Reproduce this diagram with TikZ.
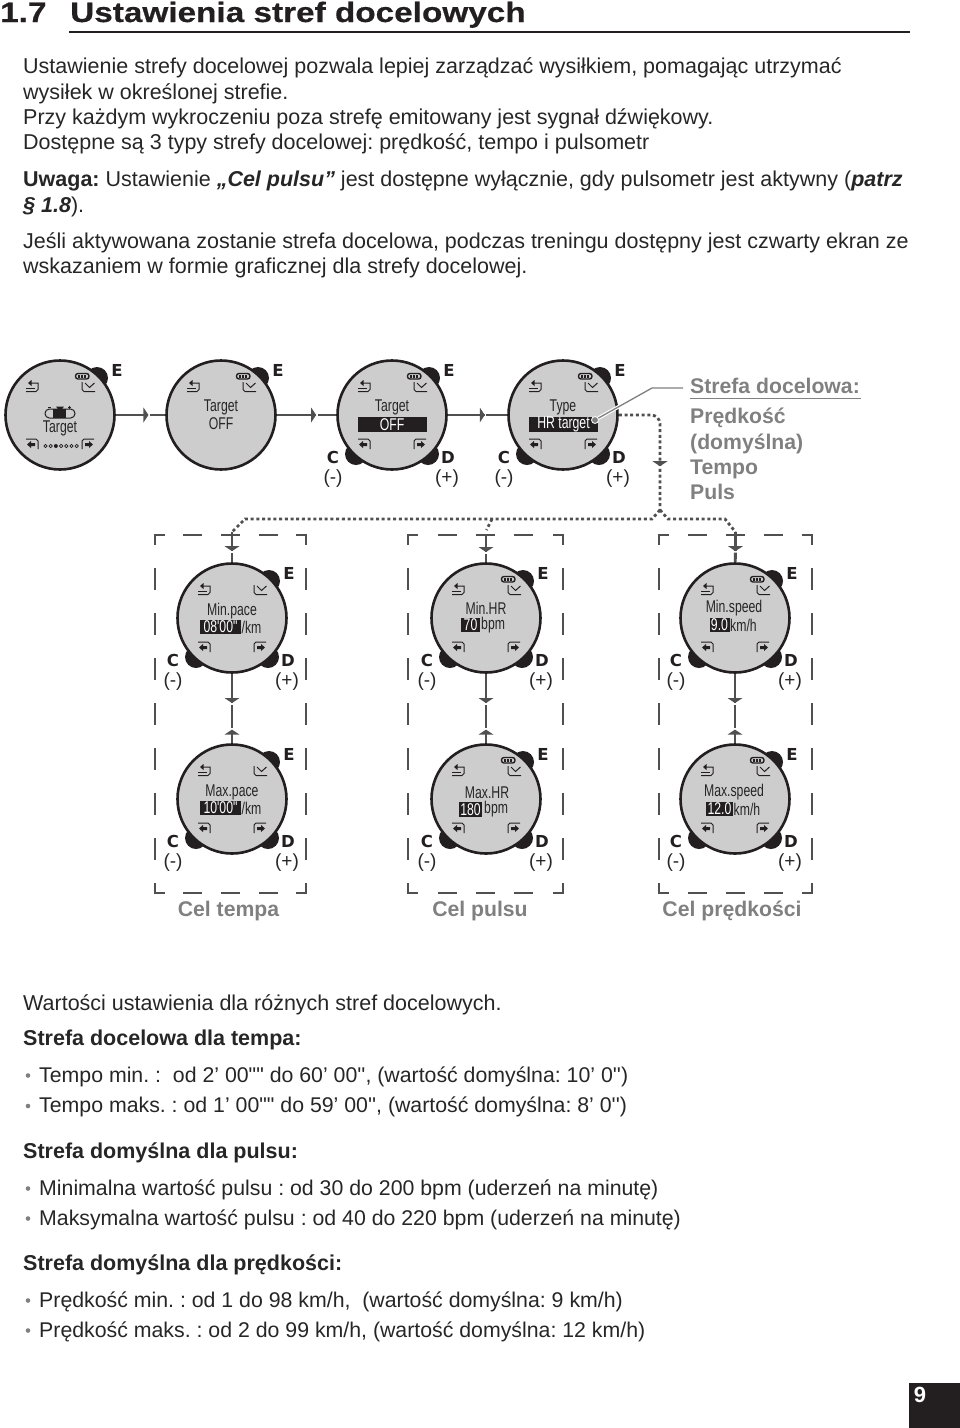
\documentclass[tikz,border=0pt]{standalone}
\usepackage{fontspec}
\usepackage{xcolor}
\usetikzlibrary{positioning,arrows.meta,calc,decorations.markings}
\newfontfamily\bodyfont{Liberation Sans}
\newfontfamily\headfont[FakeStretch=1.19,FakeBold=.5]{Liberation Sans}
\newfontfamily\keyfont{DejaVu Sans}
\newfontfamily\lcdfont[FakeStretch=.72]{Liberation Sans}
\definecolor{myink}{RGB}{35,31,32}
\definecolor{mytext}{RGB}{38,38,38}
\definecolor{mygray}{RGB}{128,128,128}
\definecolor{myline}{RGB}{80,80,80}
\definecolor{mydial}{RGB}{205,205,205}
\tikzset{
    bodytext/.style={
        anchor=base west,
        inner sep=0pt,
        text=mytext,
        font=\bodyfont\fontsize{21.5}{25}\selectfont
    },
    boldtext/.style={
        bodytext,
        font=\bodyfont\bfseries\fontsize{21.5}{25}\selectfont
    },
    listtext/.style={
        bodytext,
        font=\bodyfont\fontsize{21.3}{25}\selectfont
    },
    headtext/.style={
        anchor=base west,
        inner sep=0pt,
        text=myink,
        font=\headfont\bfseries\fontsize{28}{32}\selectfont
    },
    graylabel/.style={
        anchor=base west,
        inner sep=0pt,
        text=mygray,
        font=\bodyfont\bfseries\fontsize{21.2}{25}\selectfont
    },
    zonelabel/.style={graylabel,anchor=base},
    keylabel/.style={
        inner sep=0pt,
        text=myink,
        font=\keyfont\bfseries\fontsize{16.5}{18}\selectfont
    },
    signlabel/.style={
        inner sep=0pt,
        text=mytext,
        font=\bodyfont\fontsize{19}{22}\selectfont
    },
    lcdtext/.style={
        inner sep=0pt,
        text=mytext,
        font=\lcdfont\fontsize{17}{18}\selectfont
    },
    lcdinv/.style={
        fill=myink,
        text=white,
        inner sep=0pt,
        minimum height=14.5pt,
        font=\lcdfont\fontsize{17}{18}\selectfont
    },
    watchdial/.style={
        circle,
        draw=myink,
        fill=mydial,
        line width=2.6pt,
        minimum size=109pt,
        inner sep=0pt
    },
    icon/.style={draw=myink,line width=1pt},
    arr/.style={draw=myline,line width=2.8pt},
    dots/.style={draw=myline,line width=2.8pt,dash pattern=on 3pt off 2.7pt},
    boxline/.style={draw=myline,line width=1.3pt},
    callout/.style={draw=mygray,line width=1.3pt,preaction={draw=white,line width=3.6pt}},
    bulletdot/.style={circle,fill=mygray,inner sep=0pt,minimum size=4.6pt},
    tipat/.style={
        postaction={decorate,decoration={markings,mark=at position #1 with {
            \fill[white,sharp corners] (2.5,-2.5) rectangle (4,2.5);
            \fill[myline,sharp corners] (-2.5,-7.5) -- (2.5,0) -- (-2.5,7.5) -- cycle;}}}
    },
    tipback/.style={
        postaction={decorate,decoration={markings,mark=at position #1 with {
            \fill[white,sharp corners] (-4,-2.5) rectangle (-2.5,2.5);
            \fill[myline,sharp corners] (2.5,-7.5) -- (-2.5,0) -- (2.5,7.5) -- cycle;}}}
    },
    keyE/.pic={
        \fill[myink] (37,-37) circle (11);
        \node[keylabel] (e) at (57,-45) {E};
    },
    keysCD/.pic={
        \fill[myink] (-36,39) circle (11);
        \fill[myink] (36,39) circle (11);
        \node[keylabel] (c) at (-59,42) {C};
        \node[keylabel] (d) at (56,42) {D};
        \node[signlabel] (minus) at (-59,64) {(-)};
        \node[signlabel] (plus) at (55,64) {(+)};
    },
    dial/.pic={
        \node[watchdial] (dial) at (0,0) {};
        % back and confirm icons
        \draw[icon] (-34,-23.5) -- (-24,-23.5) -- (-22,-25.5) -- (-22,-32) -- (-29,-32);
        \fill[myink] (-32,-32) -- (-28.5,-35) -- (-28.5,-29) -- cycle;
        \draw[icon] (-34,-26.5) -- (-25,-26.5);
        \draw[icon] (22,-33) -- (22,-25.5) -- (24,-23.5) -- (35,-23.5);
        \draw[icon] (25,-32) -- (29.5,-27.5) -- (34.5,-32);
    },
    navicons/.pic={
        \draw[icon] (-34,24) -- (-24,24) -- (-22,26) -- (-22,34);
        \fill[myink] (-33,29.5) -- (-29,26) -- (-29,28) -- (-25,28) -- (-25,31) -- (-29,31) -- (-29,33) -- cycle;
        \draw[icon] (34,24) -- (24,24) -- (22,26) -- (22,34);
        \fill[myink] (33,29.5) -- (29,26) -- (29,28) -- (25,28) -- (25,31) -- (29,31) -- (29,33) -- cycle;
    },
    battery/.pic={
        \draw[draw=myink,line width=1.4pt,fill=mydial,rounded corners=2.5pt] (15.5,-41.5) rectangle (29,-36);
        \fill[myink] (18,-40) rectangle (20,-37.5);
        \fill[myink] (21,-40) rectangle (23,-37.5);
        \fill[myink] (24,-40) rectangle (26,-37.5);
    }
}

\begin{document}
\frenchspacing
\begin{tikzpicture}[x=1pt,y=-1pt]
\useasboundingbox (0,0) rectangle (960,1428);

% heading
\node[headtext] (secnum) at (0,22) {1.7};
\node[headtext] (sectitle) at (70,22) {Ustawienia stref docelowych};
\coordinate (ruleL) at (69,32);
\coordinate (ruleR) at (910,32);
\draw[draw=myink,line width=1.6pt] (ruleL) -- (ruleR);

% intro text
\node[bodytext] (intro1) at (23,73) {Ustawienie strefy docelowej pozwala lepiej zarządzać wysiłkiem, pomagając utrzymać};
\node[bodytext] (intro2) at (23,99) {wysiłek w określonej strefie.};
\node[bodytext] (intro3) at (23,124) {Przy każdym wykroczeniu poza strefę emitowany jest sygnał dźwiękowy.};
\node[bodytext] (intro4) at (23,149) {Dostępne są 3 typy strefy docelowej: prędkość, tempo i pulsometr};
\node[bodytext] (note1) at (23,186) {{\bfseries Uwaga:} Ustawienie {\bfseries\itshape „Cel pulsu”} jest dostępne wyłącznie, gdy pulsometr jest aktywny ({\bfseries\itshape patrz}};
\node[bodytext] (note2) at (23,212) {{\bfseries\itshape § 1.8}).};
\node[bodytext] (intro5) at (23,248) {Jeśli aktywowana zostanie strefa docelowa, podczas treningu dostępny jest czwarty ekran ze};
\node[bodytext] (intro6) at (23,273) {wskazaniem w formie graficznej dla strefy docelowej.};

% dashed zone boxes
\foreach \xl/\xr/\xc in {155/306/230.5,408/563/485.5,659/812/735.5}{
    \draw[boxline] (\xl,545) -- (\xl,535) -- (\xl+10,535);
    \draw[boxline] (\xr,545) -- (\xr,535) -- (\xr-10,535);
    \draw[boxline] (\xl,883) -- (\xl,893) -- (\xl+10,893);
    \draw[boxline] (\xr,883) -- (\xr,893) -- (\xr-10,893);
    \foreach \d in {-38,0,38}{
        \draw[boxline] (\xc+\d-9.5,535) -- ++(19,0);
        \draw[boxline] (\xc+\d-9.5,893) -- ++(19,0);
    }
    \foreach \y in {568,613,658,703,748,793,838}{
        \draw[boxline] (\xl,\y) -- ++(0,22);
        \draw[boxline] (\xr,\y) -- ++(0,22);
    }
}

% top row of watches
\pic (wa) at (60,415) {keyE};
\pic (wa) at (60,415) {dial};
\pic (wa) at (60,415) {battery};
\pic (wb) at (221,415) {keyE};
\pic (wb) at (221,415) {dial};
\pic (wb) at (221,415) {battery};
\foreach \n/\cx in {wc/392,wd/563}{
    \pic (\n) at (\cx,415) {keyE};
    \pic (\n) at (\cx,415) {keysCD};
    \pic (\n) at (\cx,415) {dial};
    \pic (\n) at (\cx,415) {navicons};
    \pic (\n) at (\cx,415) {battery};
}
\pic (wa) at (60,415) {navicons};

% lower watches
\foreach \n/\cx/\cy in {pmin/232/618,pmax/232/799,hmin/486/618,hmax/486/799,smin/735/618,smax/735/799}{
    \pic (\n) at (\cx,\cy) {keyE};
    \pic (\n) at (\cx,\cy) {keysCD};
    \pic (\n) at (\cx,\cy) {dial};
    \pic (\n) at (\cx,\cy) {navicons};
}
\foreach \n/\cx/\cy in {hmin/486/618,hmax/486/799,smin/735/618,smax/735/799}{
    \pic (\n) at (\cx,\cy) {battery};
}

% screens of the top row
\draw[icon,fill=mydial,rounded corners=4.4pt] (45,409) rectangle (75,418);
\fill[myink] (53,409) rectangle (66,418);
\fill[myink] (56,406.5) -- (64,406.5) -- (60,412) -- cycle;
\draw[icon] (47.5,407) -- (50.5,407);
\draw[icon] (68,407) -- (71,407);
\draw[icon] (69.5,405.5) -- (69.5,408.5);
\node[lcdtext] (wal) at (60,428) {Target};
\foreach \i in {0,1,3,4,5,6}{
    \draw[draw=myink,line width=.7pt] (45.5+\i*5.2,446) circle (1.7);
}
\fill[myink] (45.5+2*5.2,446) circle (2);
\node[lcdtext] (wbl) at (221,407) {Target};
\node[lcdtext] (wbv) at (221,424) {OFF};
\node[lcdtext] (wcl) at (392,407) {Target};
\node[lcdinv,minimum width=69pt] (wcv) at (392,424.5) {OFF};
\node[lcdtext] (wdl) at (563,407) {Type};
\node[lcdinv,minimum width=69pt] (wdv) at (563.5,424.5) {HR target};

% screens of the lower rows
\node[lcdtext] (pminl) at (232,611) {Min.pace};
\node[lcdinv,minimum width=41pt] (pminv) at (220.5,627) {08'00"};
\node[lcdtext,anchor=west] (pminu) at (241.5,627) {/km};
\node[lcdtext] (pmaxl) at (232,792) {Max.pace};
\node[lcdinv,minimum width=41pt] (pmaxv) at (220.5,808) {10'00"};
\node[lcdtext,anchor=west] (pmaxu) at (241.5,808) {/km};
\node[lcdtext] (hminl) at (486,608) {Min.HR};
\node[lcdinv,minimum width=19pt] (hminv) at (470.5,625) {70};
\node[lcdtext,anchor=west] (hminu) at (481,625) {bpm};
\node[lcdtext] (hmaxl) at (487,793) {Max.HR};
\node[lcdinv,minimum width=23pt] (hmaxv) at (470.5,809.5) {180};
\node[lcdtext,anchor=west] (hmaxu) at (484,809.5) {bpm};
\node[lcdtext] (sminl) at (734,608) {Min.speed};
\node[lcdinv,minimum width=20pt] (sminv) at (719.5,625) {9.0};
\node[lcdtext,anchor=west] (sminu) at (730,625) {km/h};
\node[lcdtext] (smaxl) at (734,792) {Max.speed};
\node[lcdinv,minimum width=27pt] (smaxv) at (719.5,809) {12.0};
\node[lcdtext,anchor=west] (smaxu) at (733.5,809) {km/h};

% connectors
\draw[arr,tipat=.61] (wadial) -- (wbdial);
\draw[arr,tipat=.62] (wbdial) -- (wcdial);
\draw[arr,tipat=.58] (wcdial) -- (wddial);
\coordinate (split) at (660,510);
\coordinate (tpace) at (232,532);
\coordinate (thr) at (486.5,530);
\coordinate (tspeed) at (735.5,532);
\draw[dots,rounded corners=9pt,tipat=.65] (wddial) -- (660,415) -- (split);
\draw[dots] (split) -- (652,519) -- (245,519) -- (tpace);
\draw[dots] (492,519) -- (thr);
\draw[dots] (split) -- (668,519) -- (725,519) -- (tspeed);
\draw[arr,tipat=.55] (tpace) -- (pmindial);
\draw[arr,tipat=.55] (486,534) -- (hmindial);
\draw[arr,tipat=.55] (tspeed) -- (smindial);
\draw[arr,tipat=.385,tipback=.84] (pmindial) -- (pmaxdial);
\draw[arr,tipat=.385,tipback=.84] (hmindial) -- (hmaxdial);
\draw[arr,tipat=.385,tipback=.84] (smindial) -- (smaxdial);

% callout with the list of targets
\node[circle,fill=mygray,draw=white,line width=.8pt,inner sep=0pt,minimum size=7pt] (hrdot) at (595,420) {};
\coordinate (callend) at (683,388);
\draw[callout] (hrdot) -- (652,388) -- (callend);
\node[graylabel] (tgt0) at (690,393) {Strefa docelowa:};
\coordinate (tgtL) at (690,398.5);
\coordinate (tgtR) at (861,398.5);
\draw[draw=mygray,line width=1.3pt] (tgtL) -- (tgtR);
\node[graylabel] (tgt1) at (690,423) {Prędkość};
\node[graylabel] (tgt2) at (690,449) {(domyślna)};
\node[graylabel] (tgt3) at (690,474) {Tempo};
\node[graylabel] (tgt4) at (690,499) {Puls};

% zone names
\node[zonelabel] (zone1) at (228.5,916) {Cel tempa};
\node[zonelabel] (zone2) at (480,916) {Cel pulsu};
\node[zonelabel] (zone3) at (732,916) {Cel prędkości};

% lists below
\node[bodytext] (vals) at (23,1010) {Wartości ustawienia dla różnych stref docelowych.};
\node[boldtext] (head1) at (23,1045) {Strefa docelowa dla tempa:};
\node[listtext] (item1) at (39,1082) {Tempo min. :~ od 2’ 00"" do 60’ 00'', (wartość domyślna: 10’ 0'')};
\node[listtext] (item2) at (39,1112.5) {Tempo maks. : od 1’ 00"" do 59’ 00'', (wartość domyślna: 8’ 0'')};
\node[boldtext] (head2) at (23,1158) {Strefa domyślna dla pulsu:};
\node[listtext] (item3) at (39,1195) {Minimalna wartość pulsu : od 30 do 200 bpm (uderzeń na minutę)};
\node[listtext] (item4) at (39,1225) {Maksymalna wartość pulsu : od 40 do 220 bpm (uderzeń na minutę)};
\node[boldtext] (head3) at (23,1270) {Strefa domyślna dla prędkości:};
\node[listtext] (item5) at (39,1307) {Prędkość min. : od 1 do 98 km/h,~ (wartość domyślna: 9 km/h)};
\node[listtext] (item6) at (39,1337) {Prędkość maks. : od 2 do 99 km/h, (wartość domyślna: 12 km/h)};
\foreach \y [count=\i] in {1075.5,1106,1188.5,1218.5,1300.5,1330.5}{
    \node[bulletdot] (dot\i) at (28,\y) {};
}

% page number
\fill[myink] (909,1383) rectangle (960,1428);
\node[inner sep=0pt,text=white,font=\bodyfont\bfseries\fontsize{22}{26}\selectfont] (pagenum) at (920,1395) {9};
\end{tikzpicture}
\end{document}
